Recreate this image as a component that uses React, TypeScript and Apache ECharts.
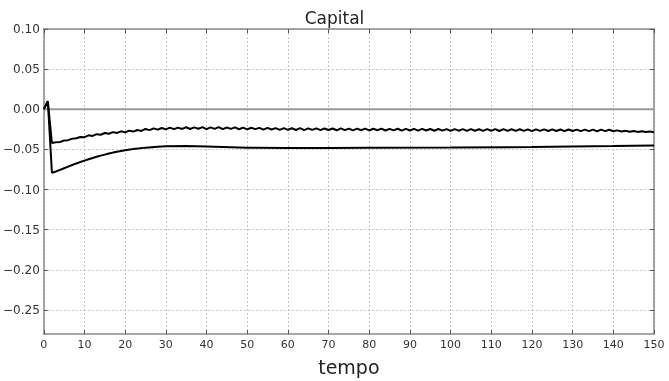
import React, { useEffect, useRef } from "react";
import * as echarts from "echarts";

const titleText = "Capital";
const xName = "tempo";
const yTicks = [-0.25, -0.2, -0.15, -0.1, -0.05, 0.0, 0.05, 0.1];

// noisy series, one value per time step t = 0..150
const noisyV = [
  0, 0.0100, -0.0420, -0.0412, -0.0408, -0.0390, -0.0385, -0.0366, -0.0362, -0.0345, -0.0348, -0.0325, -0.0332, -0.0310, -0.0318, -0.0296, -0.0305, -0.0285, -0.0295, -0.0275,
  -0.0288, -0.0266, -0.0278, -0.0258, -0.0270, -0.0245, -0.0260, -0.0238, -0.0254, -0.0233, -0.0250, -0.0228, -0.0248, -0.0229, -0.0245, -0.0224, -0.0246, -0.0226, -0.0243, -0.0223,
  -0.0247, -0.0225, -0.0245, -0.0223, -0.0248, -0.0227, -0.0244, -0.0226, -0.0249, -0.0229, -0.0251, -0.0230, -0.0248, -0.0232, -0.0253, -0.0232, -0.0252, -0.0235, -0.0256, -0.0235,
  -0.0256, -0.0237, -0.0258, -0.0236, -0.0259, -0.0238, -0.0257, -0.0238, -0.0260, -0.0239, -0.0259, -0.0240, -0.0262, -0.0239, -0.0260, -0.0241, -0.0263, -0.0242, -0.0261, -0.0241,
  -0.0264, -0.0243, -0.0262, -0.0242, -0.0265, -0.0244, -0.0263, -0.0243, -0.0266, -0.0245, -0.0264, -0.0244, -0.0267, -0.0245, -0.0265, -0.0246, -0.0268, -0.0246, -0.0266, -0.0247,
  -0.0269, -0.0247, -0.0267, -0.0248, -0.0270, -0.0248, -0.0268, -0.0249, -0.0269, -0.0247, -0.0268, -0.0248, -0.0271, -0.0248, -0.0269, -0.0249, -0.0270, -0.0249, -0.0270, -0.0250,
  -0.0272, -0.0250, -0.0270, -0.0251, -0.0271, -0.0251, -0.0271, -0.0252, -0.0273, -0.0252, -0.0271, -0.0253, -0.0272, -0.0253, -0.0272, -0.0254, -0.0274, -0.0254, -0.0273, -0.0256,
  -0.0274, -0.0263, -0.0277, -0.0267, -0.0279, -0.0270, -0.0282, -0.0273, -0.0284, -0.0276, -0.0286,
];

// smooth lower series
const lowT = [0, 1, 2, 3, 4, 5, 6, 7, 8, 9, 10, 11, 12, 13, 14, 15, 16, 17, 18, 19, 20, 22, 25, 28, 30, 35, 40, 50, 60, 70, 80, 100, 120, 140, 150];
const lowV = [0, 0.010, -0.079, -0.0775, -0.0755, -0.0735, -0.0715, -0.0695, -0.0675, -0.0657, -0.064, -0.0623, -0.0607, -0.0592, -0.0578, -0.0565, -0.0552, -0.054, -0.053, -0.052, -0.051, -0.0495, -0.0478, -0.0466, -0.046, -0.0458, -0.0463, -0.0478, -0.0484, -0.0484, -0.0481, -0.0477, -0.047, -0.0458, -0.045];

// flat gray series
const zeroT = [0, 150];
const zeroV = [0, 0];

const FONT = "DejaVu Sans";
const fmtY = (v: number) => {
  const s = Math.abs(v).toFixed(2);
  return v < -1e-9 ? "\u2212" + s : s;
};

export default function App() {
  const ref = useRef<HTMLDivElement>(null);
  useEffect(() => {
    if (!ref.current) return;
    const chart = echarts.init(ref.current, null, { renderer: "svg" });
    const gridLine = { show: true, lineStyle: { color: "#c4c4c4", type: [2, 2] as any, width: 1 } };
    const frame = { show: true, onZero: false, lineStyle: { color: "#8a8a8a", width: 1.5 } };
    const tick = { show: true, inside: true, length: 4, lineStyle: { color: "#555", width: 1 } };
    chart.setOption({
      animation: false,
      title: {
        text: titleText,
        left: "center",
        top: 4,
        textStyle: { fontFamily: FONT, fontSize: 17, fontWeight: "normal", color: "#222" },
      },
      grid: { left: 43, right: 15, top: 29, bottom: 43 },
      xAxis: [
        {
          type: "value",
          min: 0,
          max: 150,
          interval: 10,
          position: "bottom",
          name: xName,
          nameLocation: "middle",
          nameGap: 23,
          nameTextStyle: { fontFamily: FONT, fontSize: 19, color: "#222" },
          axisLine: frame,
          axisTick: tick,
          splitLine: gridLine,
          axisLabel: { fontFamily: FONT, fontSize: 11, color: "#333", margin: 5 },
        },
        {
          type: "value",
          min: 0,
          max: 150,
          interval: 10,
          position: "top",
          axisLine: frame,
          axisTick: tick,
          splitLine: { show: false },
          axisLabel: { show: false },
        },
      ],
      yAxis: [
        {
          type: "value",
          min: -0.28,
          max: 0.1,
          position: "left",
          axisLine: frame,
          axisTick: { ...tick, customValues: yTicks },
          splitLine: gridLine,
          axisLabel: { fontFamily: FONT, fontSize: 12, color: "#333", margin: 4, customValues: yTicks, formatter: fmtY },
        },
        {
          type: "value",
          min: -0.28,
          max: 0.1,
          position: "right",
          axisLine: frame,
          axisTick: { ...tick, customValues: yTicks },
          splitLine: { show: false },
          axisLabel: { show: false },
        },
      ],
      series: [
        {
          type: "line",
          xAxisIndex: 0,
          yAxisIndex: 0,
          data: zeroT.map((t, i) => [t, zeroV[i]]),
          showSymbol: false,
          lineStyle: { color: "#999", width: 2 },
          z: 2,
        },
        {
          type: "line",
          xAxisIndex: 0,
          yAxisIndex: 0,
          data: noisyV.map((v, i) => [i, v]),
          showSymbol: false,
          lineStyle: { color: "#000", width: 2 },
          z: 3,
        },
        {
          type: "line",
          xAxisIndex: 0,
          yAxisIndex: 0,
          data: lowT.map((t, i) => [t, lowV[i]]),
          showSymbol: false,
          lineStyle: { color: "#000", width: 2 },
          z: 3,
        },
      ],
    });
    return () => chart.dispose();
  }, []);
  return <div ref={ref} style={{ width: 669, height: 381, position: "fixed", left: 0, top: 0 }} />;
}
